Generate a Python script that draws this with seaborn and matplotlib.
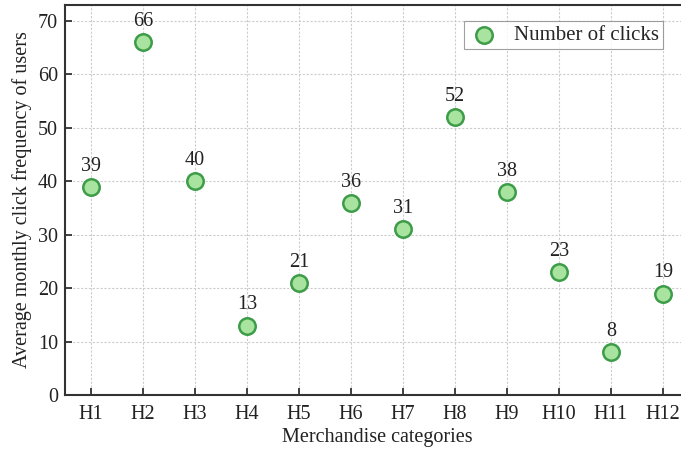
import numpy as np
import pandas as pd
import matplotlib
matplotlib.use("Agg")
import matplotlib.pyplot as plt
import seaborn as sns

# datos
categorias = ["H1", "H2", "H3", "H4", "H5", "H6", "H7", "H8", "H9", "H10", "H11", "H12"]
clics = [39, 66, 40, 13, 21, 36, 31, 52, 38, 23, 8, 19]

df = pd.DataFrame({"categoria": categorias, "clics": clics})
df["pos"] = np.arange(len(categorias))

sns.set_style("ticks")
plt.rcParams["font.family"] = ["Liberation Serif", "DejaVu Serif"]
plt.rcParams["font.size"] = 14.5

fig = plt.figure(figsize=(6.81, 4.53), dpi=100)
# el eje derecho queda fuera del lienzo, como en la figura original
ax = fig.add_axes([0.0955, 0.128, 0.916, 0.861])

ax.grid(True, color="#cccccc", linestyle=(0, (2, 1.5)), linewidth=0.8)
ax.set_axisbelow(True)

sns.scatterplot(data=df, x="pos", y="clics", ax=ax, s=140, color="#a8e4a0",
                edgecolor="#3c9c48", linewidth=1.8, label="Number of clicks", zorder=3)

for x, y in zip(df["pos"], df["clics"]):
    ax.annotate(str(y), (x, y), xytext=(0, 8), textcoords="offset points",
                ha="center", va="bottom", fontsize=14.5, color="#222222")

ax.set_xlim(-0.5, 11.5)
ax.set_ylim(0, 73)
ax.set_xticks(df["pos"])
ax.set_xticklabels(categorias)
ax.set_yticks(np.arange(0, 71, 10))
ax.tick_params(direction="in", length=5, width=1.2, labelsize=14.5, colors="#222222", pad=5)
ax.tick_params(axis="x", pad=7)
for s in ax.spines.values():
    s.set_linewidth(1.5)
    s.set_color("#333333")

ax.set_xlabel("Merchandise categories", fontsize=14.5, color="#222222", labelpad=3)
ax.set_ylabel("Average monthly click frequency of users", fontsize=14.5, color="#222222", labelpad=4)

leg = ax.legend(loc="upper right", bbox_to_anchor=(0.975, 0.985), frameon=True, fancybox=False,
                edgecolor="#888888", fontsize=15, handletextpad=0.6, borderpad=0.2,
                handlelength=1.6)
leg.get_frame().set_linewidth(0.8)

fig.savefig("out.png", dpi=100)
